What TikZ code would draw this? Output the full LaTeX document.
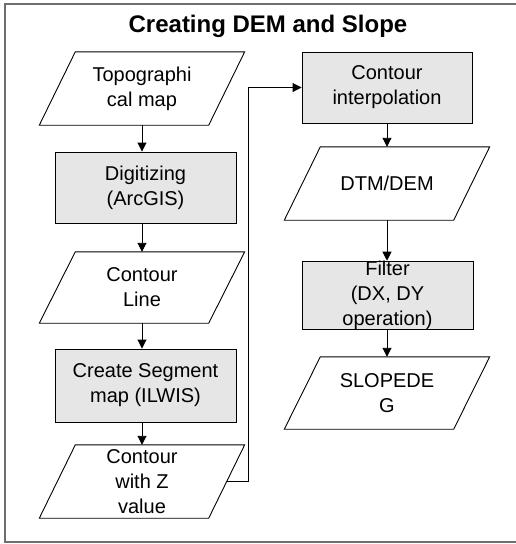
\documentclass[tikz,border=0pt]{standalone}
\usepackage{fontspec}
\setmainfont{Liberation Sans}
\usetikzlibrary{arrows.meta}
\definecolor{boxfill}{HTML}{E6E6E6}
\definecolor{framecol}{HTML}{6E6E6E}
\tikzset{
  txt/.style={font=\fontsize{20}{25}\selectfont, align=center, inner sep=0pt},
  paranode/.style={txt, draw=none, minimum width=205pt},
  procbox/.style={txt, draw=black, line width=0.9pt, fill=boxfill},
  paraline/.style={draw=black, line width=0.9pt},
  arr/.style={draw=black, line width=0.9pt, -{Triangle[length=9pt,width=9pt]}},
}
\begin{document}
\begin{tikzpicture}[x=1pt,y=-1pt]
\useasboundingbox (0,0) rectangle (515,544);
\draw[framecol, line width=1.6pt] (5,4) rectangle (530,542);
\node[font=\fontsize{24}{28}\selectfont\bfseries] (title) at (268,26) {Creating DEM and Slope};

% left column
\node[paranode, minimum height=73pt] (P1) at (142,88.5) {Topographi\\cal map};
\node[procbox, minimum width=181pt, minimum height=71pt] (B1) at (145.5,187.5) {Digitizing\\(ArcGIS)};
\node[paranode, minimum height=71pt] (P2) at (142,287.5) {Contour\\Line};
\node[procbox, minimum width=181pt, minimum height=73pt] (B2) at (145.5,385.5) {Create Segment\\map (ILWIS)};
\node[paranode, minimum height=73pt] (P3) at (142,481.5) {Contour\\with Z\\value};

% right column
\node[procbox, minimum width=170pt, minimum height=71pt] (B3) at (387,87.5) {Contour\\interpolation};
\node[paranode, minimum height=73pt] (P4) at (387,183.5) {DTM/DEM};
\node[procbox, minimum width=171pt, minimum height=65pt] (B4) at (387.5,295.5) {Filter\\(DX, DY\\operation)};
\node[paranode, minimum height=72pt] (P5) at (387,393) {SLOPEDE\\G};

% parallelogram outlines
\foreach \n in {P1,P2,P3,P4,P5}{
  \draw[paraline] ([xshift=36pt]\n.north west) -- (\n.north east)
     -- ([xshift=-36pt]\n.south east) -- (\n.south west) -- cycle;
}

% connectors
\draw[arr] (P1.south) -- (P1.south |- B1.north);
\draw[arr] (B1.south -| P1.south) -- (P2.north);
\draw[arr] (P2.south) -- (P2.south |- B2.north);
\draw[arr] (B2.south -| P2.south) -- (P3.north);
\draw[arr] ([xshift=-18pt]P3.east) -- ++(21.5,0) |- (B3.west);
\draw[arr] (B3.south -| P4.north) -- (P4.north);
\draw[arr] (P4.south) -- (P4.south |- B4.north);
\draw[arr] (B4.south -| P5.north) -- (P5.north);
\end{tikzpicture}
\end{document}
